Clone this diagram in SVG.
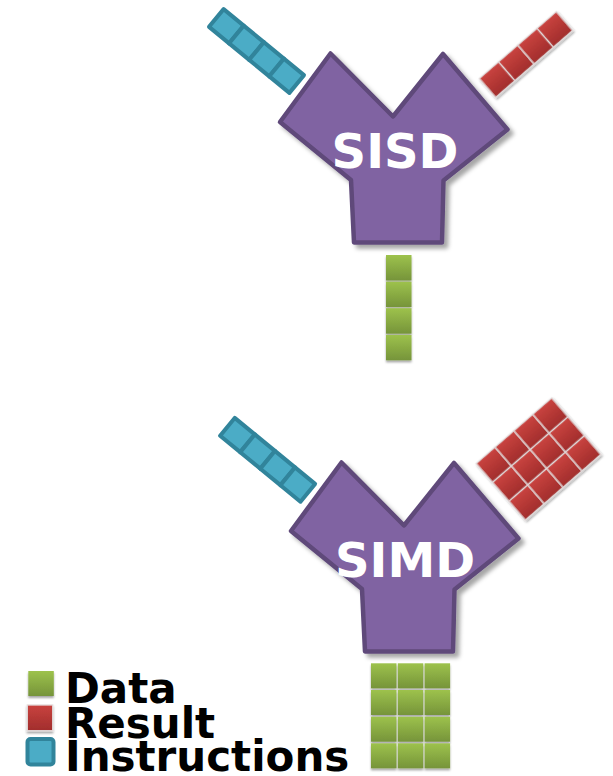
<svg xmlns="http://www.w3.org/2000/svg" width="613" height="776" viewBox="0 0 613 776">
  <defs>
    <linearGradient id="gGreen" x1="0" y1="0" x2="0" y2="1">
      <stop offset="0" stop-color="#9dc24c"/>
      <stop offset="1" stop-color="#76943a"/>
    </linearGradient>
    <linearGradient id="gRed" x1="0" y1="0" x2="0" y2="1">
      <stop offset="0" stop-color="#c9433f"/>
      <stop offset="1" stop-color="#a12d2c"/>
    </linearGradient>
    <filter id="shapeShadow" x="-20%" y="-20%" width="140%" height="140%">
      <feDropShadow dx="4" dy="4" stdDeviation="2" flood-color="#000" flood-opacity="0.35"/>
    </filter>
    <filter id="cellShadow" x="-20%" y="-20%" width="140%" height="150%">
      <feDropShadow dx="0" dy="2" stdDeviation="1" flood-color="#000" flood-opacity="0.35"/>
    </filter>
    <polygon id="yshape" points="330.5,53.5 393,116.5 443,54 507.5,129.5 443.5,180.5 442,242.5 354,242.5 351,180 280,122"/>
  </defs>
  <style>
    .proc { fill: #8064a2; stroke: #5f497a; stroke-width: 4.5; stroke-linejoin: round; }
    .label { font-family: "DejaVu Sans", "Liberation Sans", sans-serif; font-weight: bold; fill: #ffffff; font-size: 48px; text-anchor: middle; }
    .instr { fill: #4bacc6; stroke: #31849b; stroke-width: 4; stroke-linejoin: round; }
    .res { fill: url(#gRed); stroke: #e2dada; stroke-width: 1.3; }
    .data { fill: url(#gGreen); filter: url(#cellShadow); }
    .legend { font-family: "DejaVu Sans", "Liberation Sans", sans-serif; font-weight: bold; fill: #000000; font-size: 42px; }
  </style>

  <g id="connectors"/>

  <!-- SISD -->
  <g id="sisd-instructions" transform="translate(256.5,51) rotate(39.4)">
    <rect class="instr" x="-52" y="-11.5" width="26" height="23"/>
    <rect class="instr" x="-26" y="-11.5" width="26" height="23"/>
    <rect class="instr" x="0" y="-11.5" width="26" height="23"/>
    <rect class="instr" x="26" y="-11.5" width="26" height="23"/>
  </g>
  <g id="sisd-result" transform="translate(526,54.5) rotate(-41)" filter="url(#cellShadow)">
    <rect class="res" x="-51" y="-12.5" width="25.5" height="25"/>
    <rect class="res" x="-25.5" y="-12.5" width="25.5" height="25"/>
    <rect class="res" x="0" y="-12.5" width="25.5" height="25"/>
    <rect class="res" x="25.5" y="-12.5" width="25.5" height="25"/>
  </g>
  <g id="sisd">
    <use href="#yshape" class="proc" filter="url(#shapeShadow)"/>
    <text class="label" x="395" y="167.5">SISD</text>
  </g>
  <g id="sisd-data">
    <rect class="data" x="386" y="255" width="25.5" height="25.5"/>
    <rect class="data" x="386" y="281.6" width="25.5" height="25.5"/>
    <rect class="data" x="386" y="308.2" width="25.5" height="25.5"/>
    <rect class="data" x="386" y="334.8" width="25.5" height="25.5"/>
  </g>

  <!-- SIMD -->
  <g id="simd-instructions" transform="translate(267.6,459.8) rotate(39.4)">
    <rect class="instr" x="-52" y="-11.5" width="26" height="23"/>
    <rect class="instr" x="-26" y="-11.5" width="26" height="23"/>
    <rect class="instr" x="0" y="-11.5" width="26" height="23"/>
    <rect class="instr" x="26" y="-11.5" width="26" height="23"/>
  </g>
  <g id="simd-result" transform="translate(538.5,459) rotate(-41)" filter="url(#cellShadow)">
    <rect class="res" x="-50" y="-37.5" width="25" height="25"/>
    <rect class="res" x="-25" y="-37.5" width="25" height="25"/>
    <rect class="res" x="0" y="-37.5" width="25" height="25"/>
    <rect class="res" x="25" y="-37.5" width="25" height="25"/>
    <rect class="res" x="-50" y="-12.5" width="25" height="25"/>
    <rect class="res" x="-25" y="-12.5" width="25" height="25"/>
    <rect class="res" x="0" y="-12.5" width="25" height="25"/>
    <rect class="res" x="25" y="-12.5" width="25" height="25"/>
    <rect class="res" x="-50" y="12.5" width="25" height="25"/>
    <rect class="res" x="-25" y="12.5" width="25" height="25"/>
    <rect class="res" x="0" y="12.5" width="25" height="25"/>
    <rect class="res" x="25" y="12.5" width="25" height="25"/>
  </g>
  <g id="simd">
    <use href="#yshape" class="proc" filter="url(#shapeShadow)" transform="translate(11,409)"/>
    <text class="label" x="405" y="576.5">SIMD</text>
  </g>
  <g id="simd-data">
    <rect class="data" x="371" y="663.3" width="25.5" height="25"/>
    <rect class="data" x="397.8" y="663.3" width="25.5" height="25"/>
    <rect class="data" x="424.6" y="663.3" width="25.5" height="25"/>
    <rect class="data" x="371" y="690" width="25.5" height="25"/>
    <rect class="data" x="397.8" y="690" width="25.5" height="25"/>
    <rect class="data" x="424.6" y="690" width="25.5" height="25"/>
    <rect class="data" x="371" y="716.7" width="25.5" height="25"/>
    <rect class="data" x="397.8" y="716.7" width="25.5" height="25"/>
    <rect class="data" x="424.6" y="716.7" width="25.5" height="25"/>
    <rect class="data" x="371" y="743.3" width="25.5" height="25"/>
    <rect class="data" x="397.8" y="743.3" width="25.5" height="25"/>
    <rect class="data" x="424.6" y="743.3" width="25.5" height="25"/>
  </g>

  <!-- Legend -->
  <g id="legend">
    <rect class="data" x="28.3" y="671" width="25.5" height="25"/>
    <rect class="res" x="27.3" y="705" width="25.4" height="25.7" stroke="none" filter="url(#cellShadow)"/>
    <rect class="instr" x="27.5" y="739" width="26" height="25.5" rx="3" stroke-width="4.5"/>
    <text class="legend" x="65" y="703">Data</text>
    <text class="legend" x="65" y="737.5">Result</text>
    <text class="legend" x="65" y="771">Instructions</text>
  </g>
</svg>
